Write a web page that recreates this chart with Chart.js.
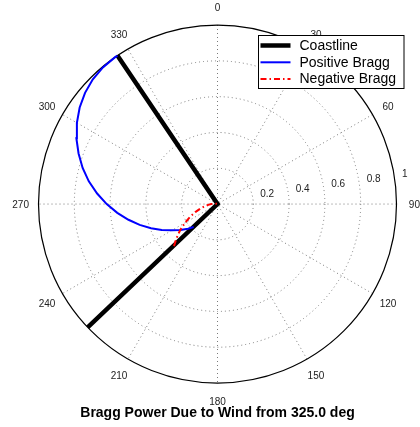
<!DOCTYPE html>
<html><head><meta charset="utf-8">
<script src="https://cdn.jsdelivr.net/npm/chart.js@4.4.1/dist/chart.umd.min.js"></script>
<style>html,body{margin:0;padding:0;background:#fff;}#wrap{position:relative;width:420px;height:427px;}</style>
</head><body><div id="wrap"><canvas id="c"></canvas></div>
<script>
// ---- data (bearing in degrees clockwise from north, relative power 0..1) ----
const windFromDeg = 325.0;
const bearingDeg    = [226,230,235,240,245,250,255,260,265,270,275,280,285,290,295,300,305,310,315,320,325,326];
const positiveBragg = [0.185,0.215,0.253,0.294,0.344,0.395,0.450,0.505,0.562,0.619,0.675,0.730,0.780,0.826,0.870,0.907,0.940,0.966,0.985,0.996,1.000,1.000];
const negativeBragg = [0.338,0.300,0.255,0.210,0.168,0.132,0.100,0.073,0.052,0.035,0.022,0.013,0.007,0.004,0.002,0.001,0,0,0,0,0,0];
const coastBearing  = [326, 0, 226.5];
const coastRange    = [1, 0, 1];
const ringValues    = [0.2, 0.4, 0.6, 0.8, 1];
const ringLabels    = ['0.2', '0.4', '0.6', '0.8', '1'];
const spokeBearings = [0, 30, 60, 90, 120, 150, 180, 210, 240, 270, 300, 330];
const spokeLabels   = ['0', '30', '60', '90', '120', '150', '180', '210', '240', '270', '300', '330'];
const rMax = 1;
const titleText = 'Bragg Power Due to Wind from ' + windFromDeg.toFixed(1) + ' deg';

function toXY(b, r) { const a = b * Math.PI / 180; return { x: r * Math.sin(a), y: r * Math.cos(a) }; }
const series = (bs, rs) => bs.map((b, i) => toXY(b, rs[i]));

const FONT = 'Arial, "Liberation Sans", sans-serif';

const polarGrid = {
  id: 'polarGrid',
  beforeDatasetsDraw(chart) {
    const { ctx, scales: { x, y } } = chart;
    const cx = x.getPixelForValue(0), cy = y.getPixelForValue(0);
    const rp = v => x.getPixelForValue(v) - cx;
    ctx.save();
    ctx.strokeStyle = '#7a7a7a'; ctx.lineWidth = 1; ctx.setLineDash([1, 3]);
    ringValues.filter(r => r < rMax).forEach(r => { ctx.beginPath(); ctx.arc(cx, cy, rp(r), 0, 2 * Math.PI); ctx.stroke(); });
    spokeBearings.filter(b => b < 180).forEach(b => {
      const p1 = toXY(b, rMax), p2 = toXY(b + 180, rMax);
      ctx.beginPath();
      ctx.moveTo(x.getPixelForValue(p1.x), y.getPixelForValue(p1.y));
      ctx.lineTo(x.getPixelForValue(p2.x), y.getPixelForValue(p2.y));
      ctx.stroke();
    });
    ctx.setLineDash([]); ctx.strokeStyle = '#000'; ctx.lineWidth = 1.2;
    ctx.beginPath(); ctx.arc(cx, cy, rp(rMax), 0, 2 * Math.PI); ctx.stroke();
    // labels
    ctx.fillStyle = '#222'; ctx.font = '10px ' + FONT;
    ctx.textAlign = 'center'; ctx.textBaseline = 'middle';
    spokeBearings.forEach((b, i) => {
      const p = toXY(b, rMax * 1.1);
      ctx.fillText(spokeLabels[i], x.getPixelForValue(p.x), y.getPixelForValue(p.y) + 1.5);
    });
    ctx.textAlign = 'left'; ctx.textBaseline = 'bottom';
    ringValues.forEach((r, i) => {
      const p = toXY(82, r + 0.01);
      ctx.fillText('  ' + ringLabels[i], x.getPixelForValue(p.x), y.getPixelForValue(p.y));
    });
    ctx.restore();
  },
  afterDraw(chart) {
    const { ctx, chartArea } = chart;
    const L = chartArea.right - 138, T = chartArea.top + 10.5, W = 145.5, H = 53;
    ctx.save();
    ctx.fillStyle = '#fff'; ctx.fillRect(L, T, W, H);
    ctx.strokeStyle = '#000'; ctx.lineWidth = 1; ctx.strokeRect(L, T, W, H);
    ctx.font = '14px ' + FONT; ctx.textAlign = 'left'; ctx.textBaseline = 'middle';
    chart.data.datasets.forEach((ds, i) => {
      const yy = T + 10 + i * 16.8;
      ctx.strokeStyle = ds.borderColor; ctx.lineWidth = ds.borderWidth;
      ctx.setLineDash(ds.borderDash || []);
      ctx.beginPath(); ctx.moveTo(L + 2, yy); ctx.lineTo(L + 32, yy); ctx.stroke();
      ctx.setLineDash([]);
      ctx.fillStyle = '#000'; ctx.fillText(ds.label, L + 41, yy + 0.5);
    });
    ctx.restore();
  }
};

new Chart(document.getElementById('c'), {
  type: 'scatter',
  data: {
    datasets: [
      { label: 'Coastline', data: series(coastBearing, coastRange), showLine: true, borderColor: '#000', borderWidth: 4.5, pointRadius: 0, order: 3, clip: false },
      { label: 'Positive Bragg', data: series(bearingDeg, positiveBragg), showLine: true, borderColor: '#0000ff', borderWidth: 2, pointRadius: 0, order: 2, clip: false },
      { label: 'Negative Bragg', data: series(bearingDeg, negativeBragg), showLine: true, borderColor: '#ff0000', borderWidth: 2, borderDash: [6, 3, 1.5, 3], pointRadius: 0, order: 1, clip: false }
    ]
  },
  options: {
    responsive: true, maintainAspectRatio: false, animation: false,
    layout: { padding: { left: 38.5, right: 23.5, top: 25, bottom: 2.6 } },
    scales: {
      x: { type: 'linear', min: -rMax, max: rMax, display: false },
      y: { type: 'linear', min: -rMax, max: rMax, display: false }
    },
    plugins: {
      legend: { display: false },
      tooltip: { enabled: false },
      title: { display: true, position: 'bottom', text: titleText, color: '#000',
               font: { family: FONT, size: 14, weight: 'bold', lineHeight: 1.2 }, padding: { top: 21.5, bottom: 3 } }
    }
  },
  plugins: [polarGrid]
});
</script></body></html>
